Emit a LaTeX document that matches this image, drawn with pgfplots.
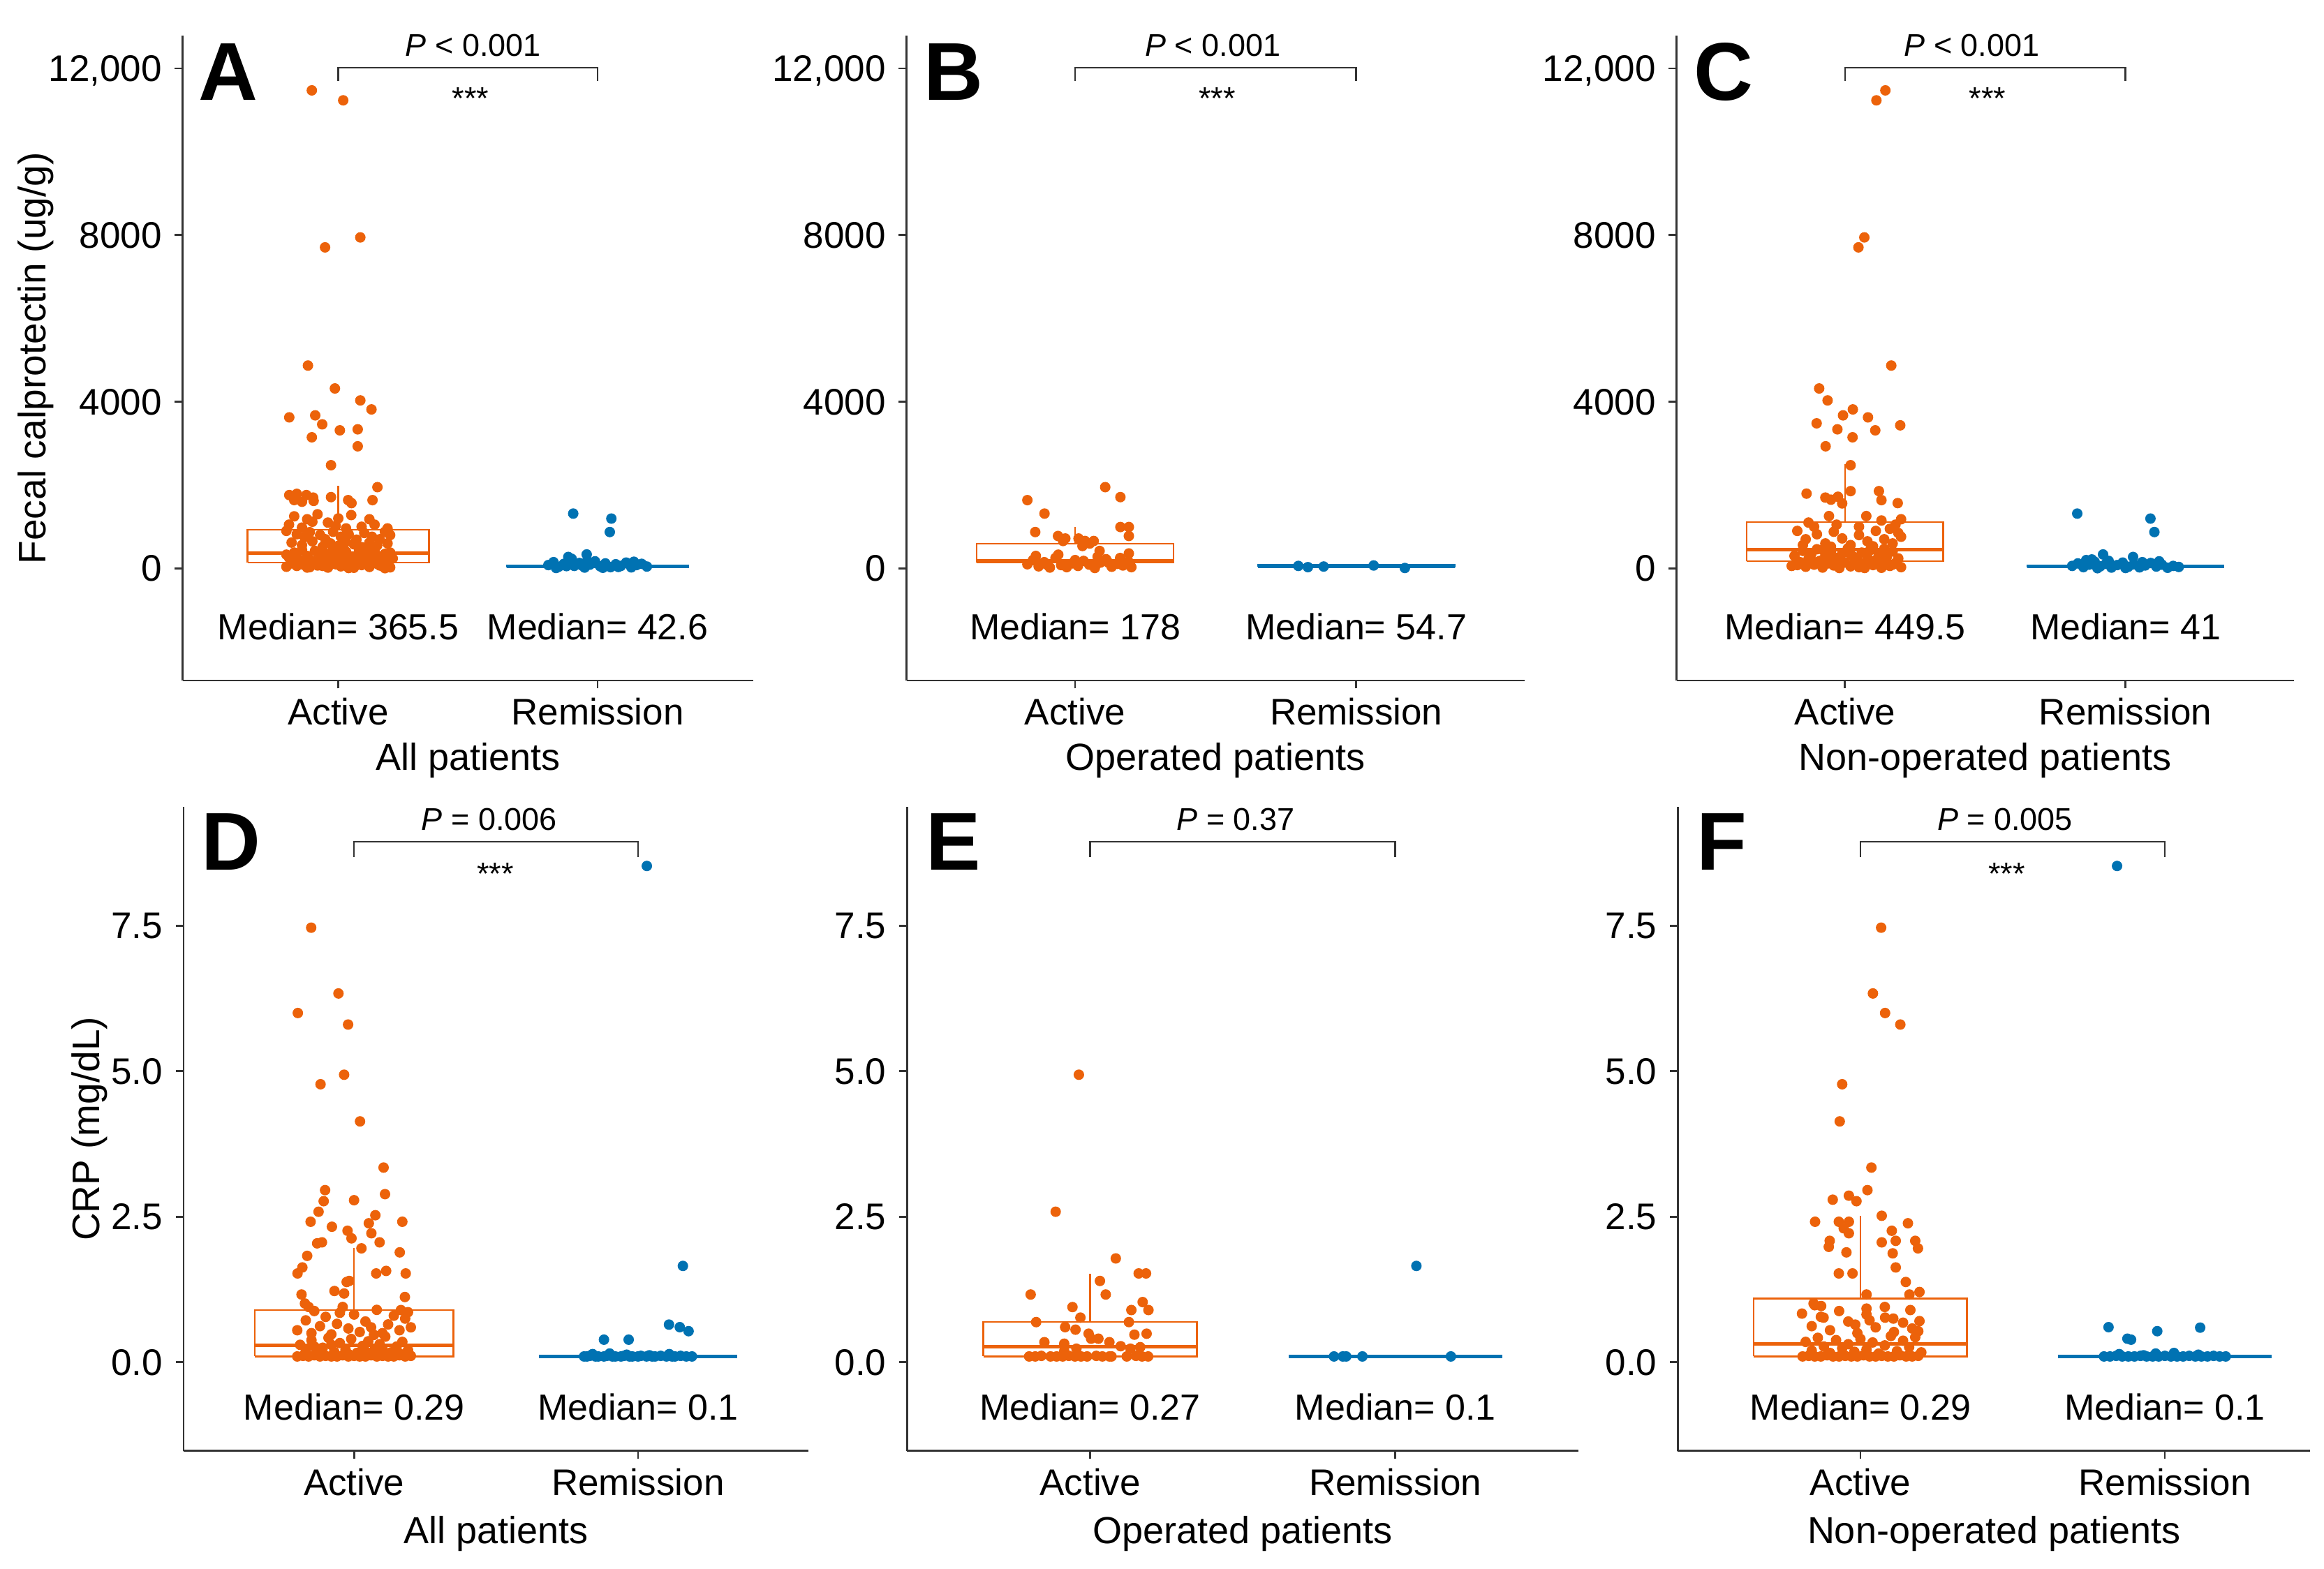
\documentclass[border=0pt]{standalone}
\usepackage{fontspec}
\setmainfont{Liberation Sans}
\usepackage{pgfplots}
\pgfplotsset{compat=1.18}
\definecolor{orng}{HTML}{EC620A}
\definecolor{blu}{HTML}{0072B2}
\definecolor{axcol}{HTML}{333333}

\newcommand{\ptxt}{\fontsize{9}{11}\selectfont}
\newcommand{\medtxt}{\fontsize{10.4}{12}\selectfont}
\newcommand{\lettxt}{\fontsize{23.5}{26}\selectfont\bfseries}

\pgfplotsset{
  panel/.style={
    scale only axis, anchor=south west, clip=false,
    scaled y ticks=false,
    axis lines=left, axis line style={-, draw=axcol, line width=0.55pt},
    tick align=outside, major tick length=2.3pt,
    tick style={draw=axcol, line width=0.55pt},
    xmin=0.4, xmax=2.6, xtick={1,2}, xticklabels={Active,Remission},
    ticklabel style={font=\fontsize{10.6}{12}\selectfont, text=black},
    xticklabel style={anchor=base, inner sep=0pt, yshift=-10.5pt},
    yticklabel style={anchor=east, inner sep=0pt, text depth=0pt, xshift=-3.5pt},
    xlabel style={font=\fontsize{10.8}{13}\selectfont, anchor=base, inner sep=0pt},
    ylabel style={font=\fontsize{11}{13}\selectfont, anchor=base, inner sep=0pt},
  },
  toprow/.style={panel, height=184.7pt, ymin=-2690, ymax=12780,
    ytick={0,4000,8000,12000}, yticklabels={0,4000,8000,{12,000}},
    xlabel style={at={(axis description cs:0.5,-0.1397)}}},
  botrow/.style={panel, height=184.56pt, ymin=-1.523, ymax=9.542,
    ytick={0,2.5,5,7.5}, yticklabels={0.0,2.5,5.0,7.5},
    xlabel style={at={(axis description cs:0.5,-0.144)}}},
  pts/.style={only marks, mark=*, mark size=1.3pt, color=#1, mark options={solid}},
  bx/.style={draw=#1, line width=0.45pt, mark=none, line join=miter},
  md/.style={draw=#1, line width=1pt, mark=none},
  brk/.style={draw=axcol, line width=0.5pt, mark=none},
}

\begin{document}
\begin{tikzpicture}
\useasboundingbox (0,0) rectangle (665.8pt,449.4pt);

% ---------------- A ----------------
\begin{axis}[toprow, at={(52.34pt,254.4pt)}, width=163.44pt,
  xlabel={All patients}, ylabel={Fecal calprotectin (ug/g)},
  ylabel style={at={(axis description cs:-0.2405,0.5)}}]
\addplot[bx=orng] coordinates {(0.65,144) (1.35,144) (1.35,933) (0.65,933) (0.65,144)};
\addplot[bx=orng] coordinates {(1,933) (1,1990)};
\addplot[md=orng] coordinates {(0.65,365.5) (1.35,365.5)};
\addplot[bx=blu] coordinates {(1.65,25) (2.35,25) (2.35,75) (1.65,75) (1.65,25)};
\addplot[md=blu] coordinates {(1.65,42.6) (2.35,42.6)};
\addplot[pts=orng] table {
x y
0.898 11473
1.019 11234
0.949 7705
1.085 7944
0.883 4869
0.987 4319
1.085 4032
1.128 3816
0.811 3625
0.911 3673
0.938 3458
0.898 3147
1.006 3314
1.075 3338
1.075 2931
0.972 2477
1.151 1950
0.972 1711
1.132 1639
1.038 1639
1.051 1567
0.811 1760
0.840 1790
0.877 1760
0.903 1700
0.830 1640
0.860 1600
0.905 1620
0.83 1250
0.88 1180
0.92 1300
0.96 1100
1.00 1200
1.05 1280
1.09 1000
1.14 1050
1.19 960
0.81 1050
0.86 980
0.90 1120
0.99 1020
1.03 960
1.12 1180
0.80 900
0.84 820
0.87 750
0.89 870
0.93 800
0.95 700
0.98 880
1.01 760
1.04 820
1.07 690
1.10 850
1.13 760
1.16 700
1.18 880
1.20 800
0.82 620
0.86 560
0.90 650
0.94 520
0.97 600
1.00 540
1.03 640
1.06 580
1.09 510
1.12 620
1.15 550
1.19 600
0.80 40
0.81 260
0.82 120
0.83 380
0.84 60
0.85 210
0.86 450
0.87 90
0.88 300
0.89 30
0.90 180
0.91 420
0.92 70
0.93 250
0.94 140
0.95 360
0.96 20
0.97 200
0.98 470
0.99 100
1.00 310
1.01 50
1.02 230
1.03 400
1.04 130
1.05 280
1.06 15
1.07 170
1.08 440
1.09 80
1.10 330
1.11 190
1.12 35
1.13 270
1.14 410
1.15 110
1.16 220
1.17 55
1.18 350
1.19 150
1.20 25
1.21 240
0.80 330
0.84 150
0.88 20
0.92 390
0.96 290
1.00 160
1.04 10
1.08 260
1.12 480
1.16 70
1.20 380
0.86 100
0.94 60
1.02 480
1.10 120
1.18 5
};
\addplot[pts=blu] table {
x y
1.906 1316
2.053 1196
2.047 873
1.958 335
1.887 275
1.81 80
1.83 150
1.85 40
1.87 110
1.89 200
1.91 60
1.93 130
1.95 20
1.97 90
1.99 170
2.01 50
2.03 120
2.05 30
2.07 100
2.09 60
2.11 140
2.13 25
2.15 80
2.17 110
2.19 45
1.84 10
1.90 230
1.96 180
2.02 15
2.08 35
2.14 160
1.88 55
1.94 70
};
\addplot[brk] coordinates {(1,11700) (1,12020) (2,12020) (2,11700)};
\node[font=\ptxt, anchor=base] at (axis cs:1.52,12300) {\textit{P} < 0.001};
\node[font=\ptxt, anchor=base] at (axis cs:1.51,11027) {***};
\node[font=\medtxt, anchor=base] at (axis cs:1,-1710) {Median= 365.5};
\node[font=\medtxt, anchor=base] at (axis cs:2,-1710) {Median= 42.6};
\node[font=\lettxt, anchor=base west, inner sep=0pt] at (axis cs:0.46,11245) {A};
\end{axis}

% ---------------- B ----------------
\begin{axis}[toprow, at={(259.7pt,254.4pt)}, width=177.16pt,
  xlabel={Operated patients}]
\addplot[bx=orng] coordinates {(0.65,140) (1.35,140) (1.35,598) (0.65,598) (0.65,140)};
\addplot[bx=orng] coordinates {(1,598) (1,993)};
\addplot[md=orng] coordinates {(0.65,178) (1.35,178)};
\addplot[bx=blu] coordinates {(1.65,35) (2.35,35) (2.35,80) (1.65,80) (1.65,35)};
\addplot[md=blu] coordinates {(1.65,54.7) (2.35,54.7)};
\addplot[pts=orng] table {
x y
1.107 1950
1.161 1711
0.830 1639
0.891 1316
0.858 873
1.161 993
1.191 993
1.191 778
0.939 778
0.957 658
0.965 718
1.012 718
1.035 658
1.052 598
1.066 658
1.087 419
1.026 538
1.191 359
0.83 100
0.85 200
0.87 50
0.89 150
0.91 20
0.93 250
0.95 80
0.97 30
0.99 120
1.01 60
1.03 180
1.05 90
1.07 10
1.09 140
1.11 220
1.13 40
1.15 110
1.17 70
1.19 160
1.20 30
0.86 300
0.94 330
1.00 200
1.08 280
1.16 250
0.90 90
1.12 130
};
\addplot[pts=blu] table {
x y
1.794 60
1.828 30
1.884 45
2.062 70
2.173 10
};
\addplot[brk] coordinates {(1,11700) (1,12020) (2,12020) (2,11700)};
\node[font=\ptxt, anchor=base] at (axis cs:1.49,12300) {\textit{P} < 0.001};
\node[font=\ptxt, anchor=base] at (axis cs:1.505,11027) {***};
\node[font=\medtxt, anchor=base] at (axis cs:1,-1710) {Median= 178};
\node[font=\medtxt, anchor=base] at (axis cs:2,-1710) {Median= 54.7};
\node[font=\lettxt, anchor=base west, inner sep=0pt] at (axis cs:0.46,11245) {B};
\end{axis}

% ---------------- C ----------------
\begin{axis}[toprow, at={(480.34pt,254.4pt)}, width=176.8pt,
  xlabel={Non-operated patients}]
\addplot[bx=orng] coordinates {(0.65,180) (1.35,180) (1.35,1113) (0.65,1113) (0.65,180)};
\addplot[bx=orng] coordinates {(1,1113) (1,2500)};
\addplot[md=orng] coordinates {(0.65,449.5) (1.35,449.5)};
\addplot[bx=blu] coordinates {(1.65,25) (2.35,25) (2.35,70) (1.65,70) (1.65,25)};
\addplot[md=blu] coordinates {(1.65,41) (2.35,41)};
\addplot[pts=orng] table {
x y
1.144 11473
1.112 11234
1.069 7944
1.048 7705
1.165 4869
0.908 4319
0.938 4032
0.993 3673
1.028 3816
1.082 3625
0.899 3482
0.973 3338
1.108 3314
1.197 3434
1.027 3147
0.931 2931
1.020 2477
1.020 1855
1.121 1855
0.863 1795
1.130 1639
1.188 1567
0.93 1700
0.95 1650
0.975 1720
0.99 1560
1.076 1256
0.943 1256
0.87 1100
0.89 1000
1.18 1050
1.20 1180
1.13 1150
1.05 1000
0.97 1050
1.16 950
0.83 900
0.86 700
0.90 820
0.93 600
0.96 880
0.99 720
1.02 560
1.05 800
1.08 650
1.11 900
1.14 700
1.17 600
1.20 760
0.85 560
0.95 520
1.10 530
1.19 850
0.81 60
0.82 300
0.84 150
0.85 420
0.86 40
0.87 230
0.88 350
0.89 90
0.90 460
0.91 180
0.92 20
0.93 310
0.94 120
0.95 400
0.96 70
0.97 250
0.98 10
0.99 360
1.00 140
1.01 480
1.02 50
1.03 280
1.04 190
1.05 30
1.06 380
1.07 100
1.08 260
1.09 440
1.10 80
1.11 200
1.12 340
1.13 15
1.14 160
1.15 290
1.16 60
1.17 410
1.18 130
1.19 240
1.20 30
0.83 80
0.88 200
0.92 450
0.97 100
1.02 330
1.07 10
1.12 210
1.17 90
0.94 250
1.05 150
1.14 470
};
\addplot[pts=blu] table {
x y
1.828 1316
2.089 1196
2.103 873
1.920 335
2.027 275
1.880 215
1.81 60
1.83 120
1.85 30
1.87 90
1.89 160
1.91 50
1.93 110
1.95 20
1.97 80
1.99 140
2.01 40
2.03 100
2.05 25
2.07 70
2.09 130
2.11 45
2.13 90
2.15 15
2.17 60
2.19 35
1.86 200
1.94 180
2.00 10
2.06 150
1.90 5
2.12 170
};
\addplot[brk] coordinates {(1,11700) (1,12020) (2,12020) (2,11700)};
\node[font=\ptxt, anchor=base] at (axis cs:1.452,12300) {\textit{P} < 0.001};
\node[font=\ptxt, anchor=base] at (axis cs:1.508,11027) {***};
\node[font=\medtxt, anchor=base] at (axis cs:1,-1710) {Median= 449.5};
\node[font=\medtxt, anchor=base] at (axis cs:2,-1710) {Median= 41};
\node[font=\lettxt, anchor=base west, inner sep=0pt] at (axis cs:0.46,11245) {C};
\end{axis}

% ---------------- D ----------------
\begin{axis}[botrow, at={(52.62pt,33.64pt)}, width=178.98pt,
  xlabel={All patients}, ylabel={CRP (mg/dL)},
  ylabel style={at={(axis description cs:-0.1347,0.5)}}]
\addplot[bx=orng] coordinates {(0.65,0.1) (1.35,0.1) (1.35,0.897) (0.65,0.897) (0.65,0.1)};
\addplot[bx=orng] coordinates {(1,0.897) (1,1.96)};
\addplot[md=orng] coordinates {(0.65,0.29) (1.35,0.29)};
\addplot[md=blu] coordinates {(1.65,0.1) (2.35,0.1)};
\addplot[pts=orng] table {
x y
0.849 7.466
0.945 6.336
0.802 6.0
0.979 5.802
0.965 4.94
0.882 4.776
1.021 4.138
1.104 3.345
0.898 2.957
1.109 2.888
1.000 2.784
0.893 2.767
0.875 2.586
1.075 2.526
0.847 2.414
1.170 2.414
0.922 2.328
1.052 2.388
0.977 2.259
1.061 2.216
0.991 2.129
0.870 2.043
0.887 2.06
1.090 2.06
1.026 1.957
0.835 1.828
1.161 1.888
0.818 1.629
0.801 1.526
0.983 1.397
0.974 1.379
1.113 1.569
1.078 1.526
1.182 1.526
0.931 1.224
0.965 1.181
0.815 1.164
1.179 1.121
0.827 1.009
0.80 0.55
0.83 0.72
0.85 0.50
0.86 0.88
0.88 0.62
0.90 0.78
0.92 0.48
0.94 0.66
0.96 0.95
0.98 0.58
1.00 0.82
1.02 0.52
1.04 0.70
1.06 0.60
1.08 0.90
1.10 0.50
1.12 0.65
1.14 0.80
1.16 0.55
1.18 0.75
1.20 0.60
0.84 0.95
1.07 0.47
0.95 0.85
1.165 0.897
1.19 0.86
0.81 0.30
0.83 0.20
0.85 0.38
0.87 0.15
0.89 0.25
0.91 0.42
0.93 0.18
0.95 0.33
0.97 0.22
0.99 0.40
1.01 0.16
1.03 0.28
1.05 0.36
1.07 0.20
1.09 0.31
1.11 0.44
1.13 0.17
1.15 0.27
1.17 0.35
1.19 0.21
0.86 0.27
0.92 0.30
0.98 0.14
1.04 0.19
1.10 0.24
1.16 0.15
0.80 0.10
0.82 0.11
0.84 0.10
0.86 0.12
0.88 0.10
0.90 0.11
0.92 0.10
0.94 0.10
0.96 0.12
0.98 0.10
1.00 0.11
1.02 0.10
1.04 0.10
1.06 0.12
1.08 0.10
1.10 0.11
1.12 0.10
1.14 0.10
1.16 0.12
1.18 0.10
1.20 0.11
};
\addplot[pts=blu] table {
x y
2.031 8.526
2.158 1.655
2.109 0.647
2.147 0.603
2.178 0.534
1.880 0.388
1.967 0.388
1.81 0.10
1.82 0.10
1.83 0.11
1.85 0.10
1.86 0.10
1.88 0.10
1.89 0.11
1.91 0.10
1.92 0.10
1.94 0.10
1.95 0.11
1.97 0.10
1.98 0.10
2.00 0.10
2.01 0.11
2.03 0.10
2.05 0.10
2.06 0.10
2.08 0.11
2.10 0.10
2.12 0.10
2.13 0.10
2.15 0.11
2.17 0.10
2.19 0.10
1.84 0.14
1.90 0.15
1.96 0.13
2.04 0.12
2.11 0.14
};
\addplot[brk] coordinates {(1,8.68) (1,8.94) (2,8.94) (2,8.68)};
\node[font=\ptxt, anchor=base] at (axis cs:1.476,9.14) {\textit{P} = 0.006};
\node[font=\ptxt, anchor=base] at (axis cs:1.497,8.21) {***};
\node[font=\medtxt, anchor=base] at (axis cs:1,-0.99) {Median= 0.29};
\node[font=\medtxt, anchor=base] at (axis cs:2,-0.99) {Median= 0.1};
\node[font=\lettxt, anchor=base west, inner sep=0pt] at (axis cs:0.46,8.46) {D};
\end{axis}

% ---------------- E ----------------
\begin{axis}[botrow, at={(259.86pt,33.64pt)}, width=192.34pt,
  xlabel={Operated patients}]
\addplot[bx=orng] coordinates {(0.65,0.1) (1.35,0.1) (1.35,0.69) (0.65,0.69) (0.65,0.1)};
\addplot[bx=orng] coordinates {(1,0.69) (1,1.526)};
\addplot[md=orng] coordinates {(0.65,0.27) (1.35,0.27)};
\addplot[md=blu] coordinates {(1.65,0.1) (2.35,0.1)};
\addplot[pts=orng] table {
x y
0.963 4.94
0.887 2.586
1.084 1.784
1.159 1.526
1.183 1.526
1.032 1.397
0.805 1.164
1.051 1.164
1.172 1.034
0.942 0.948
1.135 0.897
1.191 0.897
0.823 0.69
1.127 0.69
0.968 0.767
0.918 0.603
0.952 0.560
1.185 0.491
0.995 0.491
1.145 0.474
1.003 0.405
1.027 0.405
1.063 0.345
0.850 0.345
0.915 0.319
1.100 0.276
1.132 0.233
1.164 0.259
0.955 0.233
0.915 0.19
0.80 0.10
0.82 0.10
0.84 0.11
0.87 0.10
0.89 0.10
0.91 0.10
0.93 0.11
0.95 0.10
0.97 0.10
0.99 0.10
1.02 0.11
1.04 0.10
1.063 0.10
1.07 0.10
1.12 0.10
1.15 0.11
1.17 0.10
1.19 0.10
};
\addplot[pts=blu] table {
x y
2.069 1.655
1.799 0.1
1.828 0.1
1.839 0.1
1.892 0.1
2.182 0.1
};
\addplot[brk] coordinates {(1,8.68) (1,8.94) (2,8.94) (2,8.68)};
\node[font=\ptxt, anchor=base] at (axis cs:1.477,9.14) {\textit{P} = 0.37};
\node[font=\medtxt, anchor=base] at (axis cs:1,-0.99) {Median= 0.27};
\node[font=\medtxt, anchor=base] at (axis cs:2,-0.99) {Median= 0.1};
\node[font=\lettxt, anchor=base west, inner sep=0pt] at (axis cs:0.46,8.46) {E};
\end{axis}

% ---------------- F ----------------
\begin{axis}[botrow, at={(480.66pt,33.64pt)}, width=181.14pt, xmax=2.477,
  xlabel={Non-operated patients}]
\addplot[bx=orng] coordinates {(0.65,0.1) (1.35,0.1) (1.35,1.095) (0.65,1.095) (0.65,0.1)};
\addplot[bx=orng] coordinates {(1,1.095) (1,2.517)};
\addplot[md=orng] coordinates {(0.65,0.31) (1.35,0.31)};
\addplot[md=blu] coordinates {(1.65,0.1) (2.35,0.1)};
\addplot[pts=orng] table {
x y
1.068 7.466
1.041 6.336
1.081 6.0
1.131 5.802
0.940 4.776
0.932 4.138
1.036 3.345
1.023 2.957
0.909 2.793
0.962 2.862
0.987 2.767
1.070 2.517
0.851 2.414
0.929 2.414
0.962 2.414
1.156 2.388
0.945 2.302
0.962 2.216
1.103 2.259
1.070 2.06
1.116 2.086
1.180 2.086
0.899 2.086
0.896 1.983
1.189 1.957
1.106 1.871
0.954 1.888
1.116 1.629
0.929 1.526
0.974 1.526
1.149 1.379
1.194 1.207
1.161 1.164
1.020 1.164
0.846 1.009
0.871 0.966
0.808 0.836
1.020 0.922
1.164 0.897
0.879 0.767
1.081 0.767
1.108 0.75
1.194 0.707
0.983 0.647
1.190 0.534
0.84 0.62
0.87 0.78
0.90 0.55
0.93 0.88
0.96 0.70
0.99 0.50
1.02 0.82
1.05 0.60
1.08 0.95
1.11 0.52
1.14 0.68
1.17 0.58
0.85 0.98
1.03 0.72
0.82 0.35
0.84 0.20
0.86 0.42
0.88 0.27
0.90 0.16
0.92 0.38
0.94 0.24
0.96 0.31
0.98 0.18
1.00 0.40
1.02 0.22
1.04 0.34
1.06 0.15
1.08 0.29
1.10 0.45
1.12 0.19
1.14 0.37
1.16 0.26
1.18 0.43
1.20 0.17
0.81 0.10
0.83 0.11
0.85 0.10
0.87 0.10
0.89 0.12
0.91 0.10
0.93 0.10
0.95 0.11
0.97 0.10
0.99 0.10
1.01 0.12
1.03 0.10
1.05 0.10
1.07 0.11
1.09 0.10
1.11 0.10
1.13 0.12
1.15 0.10
1.17 0.10
1.19 0.11
};
\addplot[pts=blu] table {
x y
1.843 8.526
1.815 0.603
1.975 0.534
2.116 0.595
1.877 0.405
1.889 0.388
1.80 0.10
1.82 0.10
1.84 0.11
1.86 0.10
1.88 0.10
1.90 0.10
1.92 0.11
1.94 0.10
1.96 0.10
1.98 0.10
2.00 0.11
2.02 0.10
2.04 0.10
2.06 0.10
2.08 0.11
2.10 0.10
2.12 0.10
2.14 0.10
2.16 0.11
2.18 0.10
2.20 0.10
1.85 0.14
1.93 0.12
2.03 0.16
2.11 0.13
1.97 0.15
};
\addplot[brk] coordinates {(1,8.68) (1,8.94) (2,8.94) (2,8.68)};
\node[font=\ptxt, anchor=base] at (axis cs:1.475,9.14) {\textit{P} = 0.005};
\node[font=\ptxt, anchor=base] at (axis cs:1.48,8.21) {***};
\node[font=\medtxt, anchor=base] at (axis cs:1,-0.99) {Median= 0.29};
\node[font=\medtxt, anchor=base] at (axis cs:2,-0.99) {Median= 0.1};
\node[font=\lettxt, anchor=base west, inner sep=0pt] at (axis cs:0.46,8.46) {F};
\end{axis}
\end{tikzpicture}
\end{document}
